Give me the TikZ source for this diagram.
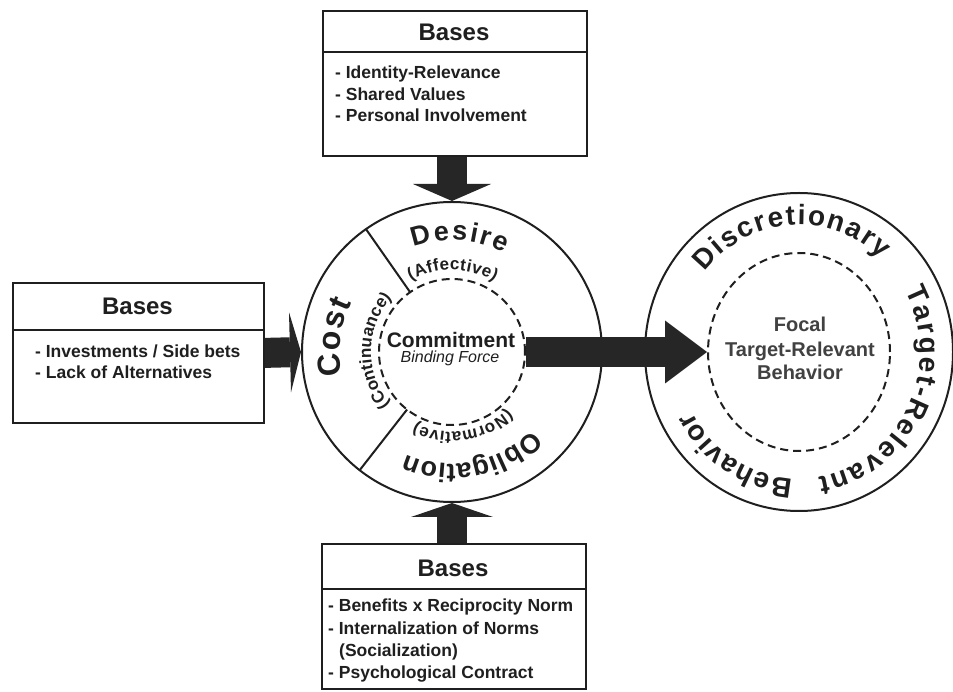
\documentclass[tikz,border=0pt]{standalone}
\usepackage{fontspec}
\setmainfont{Liberation Sans}
\usetikzlibrary{arrows.meta,decorations.text,calc,shapes.geometric}
\definecolor{ink}{HTML}{1F1F1F}
\definecolor{arrowink}{HTML}{262626}
\newcommand\titlefont{\bfseries\fontsize{24}{28}\selectfont}
\newcommand\itemfont{\bfseries\fontsize{17.5}{22}\selectfont}
\newcommand\bigarcfont{\color{ink}\bfseries\fontsize{27}{27}\selectfont}
\newcommand\costfont{\color{ink}\bfseries\fontsize{32}{32}\selectfont}
\newcommand\smallarcfont{\color{ink}\bfseries\fontsize{17}{17}\selectfont}
\newcommand\rcarcfont{\color{ink}\bfseries\fontsize{28}{28}\selectfont}
\begin{document}
\begin{tikzpicture}[x=1pt,y=1pt,
  boxframe/.style={draw=ink, line width=1.8pt, rectangle, inner sep=0pt, anchor=north west},
  headrule/.style={draw=ink, line width=1.5pt},
  boxtitle/.style={font=\titlefont, text=ink, anchor=base, inner sep=0pt},
  itemtext/.style={font=\itemfont, text=ink, anchor=base west, inner sep=0pt},
  ringline/.style={draw=ink, line width=2pt, inner sep=0pt},
  dashring/.style={draw=ink, line width=2pt, dash pattern=on 8pt off 5pt, inner sep=0pt},
  bigarrow/.style 2 args={draw=arrowink, line width=30pt, -{Triangle[width=#1pt, length=#2pt, line width=0pt]}},
  arctext/.style={decorate, decoration={text along path, text={#1}, text align=fit to path}},
]
\fill[white] (0,0) rectangle (953,691);
\useasboundingbox (0,0) rectangle (953,691);

% ---------- boxes ----------
\node[boxframe, minimum width=264pt, minimum height=145pt] (topbox) at (322,681) {};
\draw[headrule] ($(topbox.north west)+(0,-42)$) -- ($(topbox.north east)+(0,-42)$);
\node[boxtitle] (toptitle) at (454,650) {Bases};
\node[itemtext] (topi1) at (335,612) {- Identity-Relevance};
\node[itemtext] (topi2) at (335,590) {- Shared Values};
\node[itemtext] (topi3) at (335,569) {- Personal Involvement};

\node[boxframe, minimum width=251pt, minimum height=140pt] (leftbox) at (12,409) {};
\draw[headrule] ($(leftbox.north west)+(0,-48)$) -- ($(leftbox.north east)+(0,-48)$);
\node[boxtitle] (lefttitle) at (137.5,376) {Bases};
\node[itemtext] (lefti1) at (35,333) {- Investments / Side bets};
\node[itemtext] (lefti2) at (35,312) {- Lack of Alternatives};

\node[boxframe, minimum width=264pt, minimum height=145pt] (botbox) at (321,148) {};
\draw[headrule] ($(botbox.north west)+(0,-46)$) -- ($(botbox.north east)+(0,-46)$);
\node[boxtitle] (bottitle) at (453,114) {Bases};
\node[itemtext] (boti1) at (328,80) {- Benefits x Reciprocity Norm};
\node[itemtext] (boti2) at (328,57) {- Internalization of Norms};
\node[itemtext] (boti3) at (339,35) {(Socialization)};
\node[itemtext] (boti4) at (328,13) {- Psychological Contract};

% ---------- central circle ----------
\node[ringline, circle, minimum size=300pt] (cc) at (452,339) {};
\node[dashring, circle, minimum size=146pt] (ccin) at (452,339) {};
\draw[ringline] ($(cc.center)+(125:73)$) -- ($(cc.center)+(125:150)$);
\draw[ringline] ($(cc.center)+(232:73)$) -- ($(cc.center)+(232:150)$);
\node[font=\bfseries\fontsize{21}{21}\selectfont, text=ink, anchor=base, inner sep=0pt] (commit) at (451,343) {Commitment};
\node[font=\itshape\fontsize{16}{16}\selectfont, text=ink, anchor=base, inner sep=0pt] (binding) at (450,328) {Binding Force};

\path[arctext={|\bigarcfont|Desire}] ($(cc.center)+(110:112)$) arc[start angle=110, end angle=62, radius=112];
\path[arctext={|\costfont|Cost}] ($(cc.center)+(192:112)$) arc[start angle=192, end angle=154, radius=112];
\path[arctext={|\bigarcfont|Obligation}] ($(cc.center)+(-44:112)$) arc[start angle=-44, end angle=-114, radius=112];
\path[arctext={|\smallarcfont|(Affective)}] ($(cc.center)+(120:82)$) arc[start angle=120, end angle=59, radius=82];
\path[arctext={|\smallarcfont|(Continuance)}] ($(cc.center)+(220:81)$) arc[start angle=220, end angle=138, radius=81];
\path[arctext={|\smallarcfont|(Normative)}] ($(cc.center)+(-46:80)$) arc[start angle=-46, end angle=-117, radius=80];

% ---------- right circle ----------
\node[ringline, ellipse, minimum width=308pt, minimum height=318pt] (rc) at (799,339) {};
\node[dashring, ellipse, minimum width=182pt, minimum height=198pt] (rcin) at (799,339) {};
\node[font=\bfseries\fontsize{20}{20}\selectfont, text=ink!85, anchor=base, inner sep=0pt] (focal1) at (800,359) {Focal};
\node[font=\bfseries\fontsize{20}{20}\selectfont, text=ink!85, anchor=base, inner sep=0pt] (focal2) at (800,334) {Target-Relevant};
\node[font=\bfseries\fontsize{20}{20}\selectfont, text=ink!85, anchor=base, inner sep=0pt] (focal3) at (800,311) {Behavior};

\path[arctext={|\rcarcfont|Discretionary}] ($(rc.center)+(141:121 and 127)$) arc[start angle=141, end angle=47, x radius=121, y radius=127];
\path[arctext={|\rcarcfont|Target-Relevant}] ($(rc.center)+(29:121 and 127)$) arc[start angle=29, end angle=-81, x radius=121, y radius=127];
\path[arctext={|\rcarcfont|Behavior}] ($(rc.center)+(-93:121 and 127)$) arc[start angle=-93, end angle=-152, x radius=121, y radius=127];

% ---------- arrows ----------
\draw[bigarrow={78}{17}] (cc.north |- topbox.south) -- (cc.north);
\draw[bigarrow={82}{14}] (cc.south |- botbox.north) -- (cc.south);
\draw[bigarrow={80}{11}] (leftbox.east) -- (cc.west);
\draw[bigarrow={63}{42}] (ccin.east) -- (rcin.west);
\end{tikzpicture}
\end{document}
